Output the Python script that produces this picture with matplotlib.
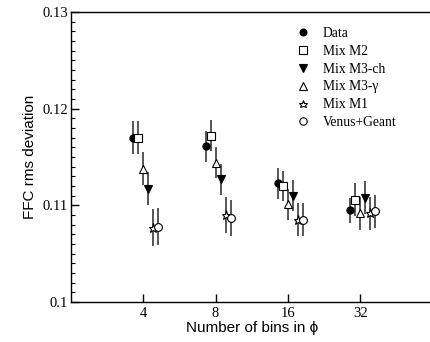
import matplotlib
matplotlib.use("Agg")
import matplotlib.pyplot as plt
import numpy as np

bins = [4, 8, 16, 32]
bin_labels = ["4", "8", "16", "32"]

series_names = ["Data", "Mix M2", "Mix M3-ch", "Mix M3-\u03b3", "Mix M1", "Venus+Geant"]
data_vals   = [0.1170, 0.1161, 0.1123, 0.1095]
data_err    = [0.0017, 0.0016, 0.0016, 0.0013]
m2_vals     = [0.1170, 0.1172, 0.1120, 0.1106]
m2_err      = [0.0017, 0.0016, 0.0016, 0.0017]
m3ch_vals   = [0.1117, 0.1127, 0.1110, 0.1108]
m3ch_err    = [0.0017, 0.0016, 0.0016, 0.0017]
m3g_vals    = [0.1138, 0.1144, 0.1101, 0.1092]
m3g_err     = [0.0017, 0.0016, 0.0016, 0.0017]
m1_vals     = [0.1077, 0.1090, 0.1085, 0.1092]
m1_err      = [0.0019, 0.0019, 0.0017, 0.0017]
venus_vals  = [0.1078, 0.1087, 0.1085, 0.1094]
venus_err   = [0.0019, 0.0019, 0.0017, 0.0017]

values = [data_vals, m2_vals, m3ch_vals, m3g_vals, m1_vals, venus_vals]
errors = [data_err, m2_err, m3ch_err, m3g_err, m1_err, venus_err]
markers = ["o", "s", "v", "^", "*", "o"]
filled = [True, False, True, False, False, False]
offsets = [-0.138, -0.069, 0.069, 0.0, 0.138, 0.207]
msizes = [5.2, 5.6, 5.6, 5.8, 6.5, 5.6]

fig = plt.figure(figsize=(4.30, 3.42), dpi=100)
ax = fig.add_axes([71/430, 1 - 302/342, (432.5 - 71)/430, (302 - 12)/342])

xpos = np.log2(bins)
for vals, errs, mk, fl, off, ms, name in zip(values, errors, markers, filled, offsets, msizes, series_names):
    ax.errorbar(xpos + off, vals, yerr=errs, fmt="none", ecolor="#3a3a3a",
                elinewidth=1.2, capsize=0, zorder=2)
    ax.plot(xpos + off, vals, linestyle="none", marker=mk, markersize=ms,
            markerfacecolor="black" if fl else "white", markeredgecolor="black",
            markeredgewidth=0.8, label=name, zorder=3)

ax.set_xlim(1, 6)
ax.set_ylim(0.10, 0.13)
ax.set_xticks(xpos)
ax.set_xticklabels(bin_labels)
ax.set_yticks([0.10, 0.11, 0.12, 0.13])
ax.set_yticklabels(["0.1", "0.11", "0.12", "0.13"])
ax.set_yticks(np.arange(0.100, 0.1301, 0.001), minor=True)
ax.tick_params(axis="both", which="major", direction="in", length=6, width=1,
               labelsize=10.5, pad=2)
ax.tick_params(axis="x", which="major", pad=3.5)
ax.tick_params(axis="y", which="minor", direction="in", length=3, width=0.8)
for lab in ax.get_xticklabels() + ax.get_yticklabels():
    lab.set_family("Liberation Serif")
ax.spines["right"].set_visible(False)
for s in ["left", "bottom", "top"]:
    ax.spines[s].set_linewidth(1.0)

ax.set_xlabel("Number of bins in \u03d5", family="Liberation Sans", fontsize=11, labelpad=1)
ax.set_ylabel("FFC rms deviation", family="Liberation Sans", fontsize=11, labelpad=4)

leg = ax.legend(loc="upper left", bbox_to_anchor=(0.607, 0.968), frameon=False,
                prop={"family": "Liberation Serif", "size": 9.8}, handlelength=1.0,
                handletextpad=1.0, labelspacing=0.36, borderaxespad=0, markerscale=0.95)

fig.savefig("out.png", dpi=100)
